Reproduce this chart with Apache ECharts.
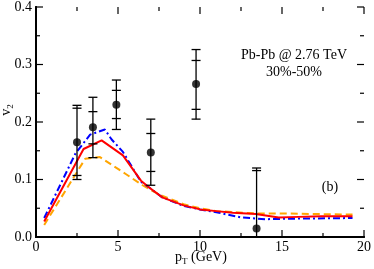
<!DOCTYPE html>
<html><head><meta charset="utf-8">
<script src="https://cdn.jsdelivr.net/npm/echarts@6/dist/echarts.min.js"></script>
<style>html,body{margin:0;padding:0;background:#fff}#c{width:374px;height:269px}</style>
</head><body><div id="c"></div>
<script>
// Data points (with two levels of error bars)
var ptX = [2.5, 3.47, 4.9, 7.0, 9.76, 13.45];
var ptY = [0.165, 0.191, 0.230, 0.147, 0.266, 0.015];
var outerLo = [0.100, 0.138, 0.187, 0.090, 0.205, -0.09];
var outerHi = [0.229, 0.243, 0.273, 0.205, 0.326, 0.120];
var innerLo = [0.107, 0.162, 0.206, 0.114, 0.222, -0.08];
var innerHi = [0.224, 0.218, 0.255, 0.180, 0.307, 0.1155];

// Model curves
var redX = [0.5, 2.9, 4.0, 5.3, 6.4, 6.9, 7.7, 9.0, 10.0, 11.0, 12.0, 13.4, 14.8, 16.0, 17.4, 19.3];
var redY = [0.027, 0.153, 0.168, 0.142, 0.098, 0.086, 0.069, 0.055, 0.048, 0.045, 0.042, 0.040, 0.034, 0.035, 0.036, 0.036];
var blueX = [0.5, 2.4, 3.3, 4.2, 4.6, 5.3, 6.4, 6.9, 7.7, 9.0, 10.0, 11.0, 12.5, 14.0, 16.0, 19.3];
var blueY = [0.033, 0.145, 0.178, 0.187, 0.170, 0.148, 0.096, 0.086, 0.069, 0.054, 0.048, 0.043, 0.034, 0.031, 0.032, 0.033];
var orangeX = [0.5, 3.0, 3.9, 4.7, 5.45, 6.5, 7.5, 9.0, 10.0, 11.0, 13.4, 14.8, 17.0, 19.3];
var orangeY = [0.021, 0.136, 0.139, 0.124, 0.110, 0.090, 0.074, 0.057, 0.050, 0.045, 0.041, 0.041, 0.040, 0.039];

// Ticks
var xTicks = [0, 5, 10, 15, 20];
var xMinorTicks = [2.5, 7.5, 12.5, 17.5];
var yTicks = [0.0, 0.1, 0.2, 0.3, 0.4];
var yMinorTicks = [0.05, 0.15, 0.25, 0.35];

function pairs(xs, ys){ return xs.map(function(x,i){return [x, ys[i]];}); }
var errData = ptX.map(function(x,i){ return [x, ptY[i], outerLo[i], outerHi[i], innerLo[i], innerHi[i]]; });

var XMIN = xTicks[0], XMAX = xTicks[xTicks.length-1], YMIN = yTicks[0], YMAX = yTicks[yTicks.length-1];
// tick list: [axis(0=x,1=y), value, major(1)/minor(0)]
var tickList = [];
xTicks.forEach(function(v){ tickList.push([0, v, 1]); });
xMinorTicks.forEach(function(v){ tickList.push([0, v, 0]); });
yTicks.forEach(function(v){ tickList.push([1, v, 1]); });
yMinorTicks.forEach(function(v){ tickList.push([1, v, 0]); });

var FONT = '"Liberation Serif", "Times New Roman", serif';
var chart = echarts.init(document.getElementById('c'), null, {renderer:'canvas'});

function mkAxis(kind, pos, interval, main){
  var a = {type:'value', position:pos, min:kind==='x'?XMIN:YMIN, max:kind==='x'?XMAX:YMAX, interval:interval,
    axisLine:{show:true, lineStyle:{color:'#000', width:2}},
    axisTick:{show:false}, minorTick:{show:false},
    splitLine:{show:false}, axisLabel:{show:false}};
  if (main) {
    a.axisLabel = {show:true, color:'#000', fontFamily:FONT, fontSize:14, margin:kind==='x'?3:4,
      formatter: kind==='y' ? function(v){return v.toFixed(1);} : function(v){return String(v);}};
  }
  return a;
}

chart.setOption({
  animation:false,
  backgroundColor:'#fff',
  grid:{left:36, right:8, top:5, bottom:32, containLabel:false},
  xAxis:[ mkAxis('x','bottom',5,true), mkAxis('x','top',5,false) ],
  yAxis:[ mkAxis('y','left',0.1,true), mkAxis('y','right',0.1,false) ],
  graphic:[
    {type:'text', x:294, y:55, style:{text:'Pb-Pb @ 2.76 TeV', fill:'#000', font:'14px '+FONT, textAlign:'center', textVerticalAlign:'middle'}},
    {type:'text', x:294, y:72, style:{text:'30%-50%', fill:'#000', font:'14px '+FONT, textAlign:'center', textVerticalAlign:'middle'}},
    {type:'text', x:330, y:187, style:{text:'(b)', fill:'#000', font:'14px '+FONT, textAlign:'center', textVerticalAlign:'middle'}},
    {type:'text', x:201, y:258, style:{text:'{a|p}{s|T}{a| (GeV)}', textAlign:'center', textVerticalAlign:'middle',
      rich:{a:{fontFamily:FONT, fontSize:14, fill:'#000', verticalAlign:'top'}, s:{fontFamily:FONT, fontSize:9, fill:'#000', verticalAlign:'bottom', padding:[7,0,0,0]}}}},
    {type:'text', x:7, y:110, rotation:Math.PI/2, style:{text:'{a|v}{s|2}', textAlign:'center', textVerticalAlign:'middle',
      rich:{a:{fontFamily:FONT, fontSize:14, fill:'#000', verticalAlign:'top'}, s:{fontFamily:FONT, fontSize:9, fill:'#000', verticalAlign:'bottom', padding:[7,0,0,0]}}}}
  ],
  series:[
    {type:'line', data:pairs(orangeX, orangeY), showSymbol:false, symbol:'none', lineStyle:{color:'#ffa500', width:2, type:[7,4]}, z:3},
    {type:'line', data:pairs(blueX, blueY), showSymbol:false, symbol:'none', lineStyle:{color:'#0000ff', width:2, type:[7,3,2,3]}, z:4},
    {type:'line', data:pairs(redX, redY), showSymbol:false, symbol:'none', lineStyle:{color:'#ff0000', width:2}, z:5},
    {type:'custom', data:errData, clip:true, z:6,
     encode:{x:0, y:[2,3]},
     renderItem:function(params, api){
       var x = api.value(0);
       var oLo = api.coord([x, api.value(2)]), oHi = api.coord([x, api.value(3)]);
       var iLo = api.coord([x, api.value(4)]), iHi = api.coord([x, api.value(5)]);
       var hw = 4.5;
       var st = {stroke:'#000', lineWidth:1.3};
       function cap(p){ return {type:'line', shape:{x1:p[0]-hw, y1:p[1], x2:p[0]+hw, y2:p[1]}, style:st}; }
       var cs = params.coordSys;
       return {type:'group', clipPath:{type:'rect', shape:{x:cs.x, y:cs.y, width:cs.width, height:cs.height}}, children:[
         {type:'line', shape:{x1:oLo[0], y1:oLo[1], x2:oHi[0], y2:oHi[1]}, style:st},
         cap(oLo), cap(oHi), cap(iLo), cap(iHi)
       ]};
     }},
    {type:'scatter', data:pairs(ptX, ptY), symbol:'circle', symbolSize:8, itemStyle:{color:'#000'}, z:7},
    // inward ticks on all four sides, positioned through the axis scales
    {type:'custom', data:tickList, clip:false, z:8, silent:true,
     encode:{x:-1, y:-1},
     renderItem:function(params, api){
       var t = tickList[params.dataIndex];
       var len = t[2] ? 7 : 4;
       var st = {stroke:'#000', lineWidth:1.2};
       if (t[0] === 0) {
         var pb = api.coord([t[1], YMIN]), pt = api.coord([t[1], YMAX]);
         return {type:'group', children:[
           {type:'line', shape:{x1:pb[0], y1:pb[1], x2:pb[0], y2:pb[1]-len}, style:st},
           {type:'line', shape:{x1:pt[0], y1:pt[1], x2:pt[0], y2:pt[1]+len}, style:st}
         ]};
       } else {
         var pl = api.coord([XMIN, t[1]]), pr = api.coord([XMAX, t[1]]);
         return {type:'group', children:[
           {type:'line', shape:{x1:pl[0], y1:pl[1], x2:pl[0]+len, y2:pl[1]}, style:st},
           {type:'line', shape:{x1:pr[0], y1:pr[1], x2:pr[0]-len, y2:pr[1]}, style:st}
         ]};
       }
     }}
  ]
});
</script>
</body></html>
